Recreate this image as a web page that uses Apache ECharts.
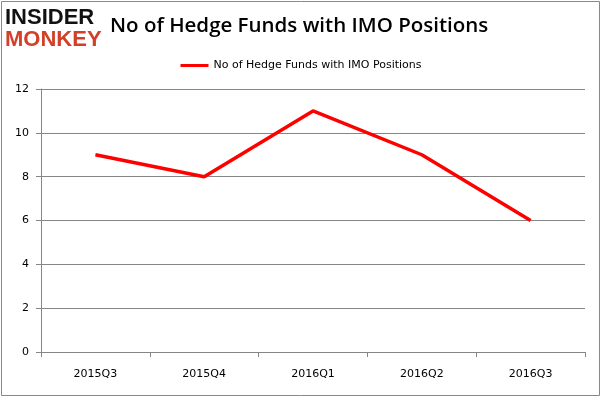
<!DOCTYPE html>
<html>
<head>
<meta charset="utf-8">
<script src="https://cdn.jsdelivr.net/npm/echarts@6/dist/echarts.min.js"></script>
<style>
html, body { margin: 0; padding: 0; background: #fff; }
#chart { width: 602px; height: 398px; }
</style>
</head>
<body>
<div id="chart"></div>
<script>
var quarters = ['2015Q3', '2015Q4', '2016Q1', '2016Q2', '2016Q3'];
var fundCounts = [9, 8, 11, 9, 6];
var seriesName = 'No of Hedge Funds with IMO Positions';

var chart = echarts.init(document.getElementById('chart'));
var option = {
    animation: false,
    title: {
        text: 'No of Hedge Funds with IMO Positions',
        left: 105,
        top: 11,
        textStyle: {
            fontFamily: 'Open Sans',
            fontSize: 20.5,
            fontWeight: 600,
            color: '#000'
        }
    },
    legend: {
        data: [seriesName],
        top: 55,
        left: 'center',
        itemWidth: 28,
        itemHeight: 3,
        icon: 'rect',
        textStyle: { fontFamily: 'DejaVu Sans', fontSize: 11, color: '#000' }
    },
    graphic: [
        { type: 'rect', shape: { x: 1.5, y: 1.5, width: 598, height: 394 },
          style: { fill: 'none', stroke: '#888', lineWidth: 1 } },
        { type: 'text', x: 5, y: 7,
          style: { text: 'INSIDER', font: 'bold 22px "Liberation Sans"', fill: '#111' } },
        { type: 'text', x: 5, y: 29,
          style: { text: 'MONKEY', font: 'bold 22px "Liberation Sans"', fill: '#d2402a' } }
    ],
    grid: {
        left: 41,
        right: 17,
        top: 89,
        bottom: 46
    },
    xAxis: {
        type: 'category',
        data: quarters,
        boundaryGap: true,
        axisLine: { lineStyle: { color: '#868686' } },
        axisTick: { show: true, inside: false, length: 5, lineStyle: { color: '#868686' } },
        axisLabel: { color: '#000', fontFamily: 'DejaVu Sans', fontSize: 11, margin: 17 }
    },
    yAxis: {
        type: 'value',
        min: 0,
        max: 12,
        interval: 2,
        axisLine: { show: true, lineStyle: { color: '#868686' } },
        axisTick: { show: true, length: 5, lineStyle: { color: '#868686' } },
        splitLine: { lineStyle: { color: '#868686' } },
        axisLabel: { color: '#000', fontFamily: 'DejaVu Sans', fontSize: 11, margin: 12 }
    },
    series: [{
        name: seriesName,
        type: 'line',
        data: fundCounts,
        symbol: 'none',
        lineStyle: { color: '#ff0000', width: 3.5 },
        itemStyle: { color: '#ff0000' }
    }]
};
chart.setOption(option);
</script>
</body>
</html>
